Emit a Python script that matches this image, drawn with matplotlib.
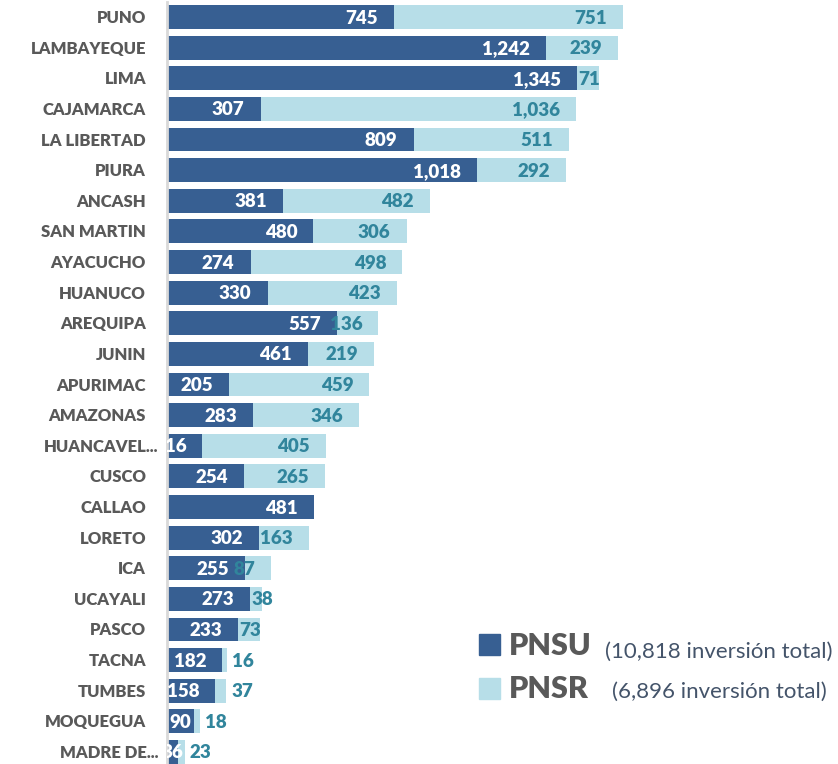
import matplotlib.pyplot as plt
from matplotlib.patches import Rectangle
import numpy as np

plt.rcParams['font.family'] = ['Lato', 'DejaVu Sans']

# data
regiones = ['PUNO', 'LAMBAYEQUE', 'LIMA', 'CAJAMARCA', 'LA LIBERTAD', 'PIURA',
            'ANCASH', 'SAN MARTIN', 'AYACUCHO', 'HUANUCO', 'AREQUIPA', 'JUNIN',
            'APURIMAC', 'AMAZONAS', 'HUANCAVEL...', 'CUSCO', 'CALLAO', 'LORETO',
            'ICA', 'UCAYALI', 'PASCO', 'TACNA', 'TUMBES', 'MOQUEGUA', 'MADRE DE...']
pnsu = [745, 1242, 1345, 307, 809, 1018, 381, 480, 274, 330, 557, 461,
        205, 283, 116, 254, 481, 302, 255, 273, 233, 182, 158, 90, 36]
pnsr = [751, 239, 71, 1036, 511, 292, 482, 306, 498, 423, 136, 219,
        459, 346, 405, 265, 0, 163, 87, 38, 73, 16, 37, 18, 23]
total_pnsu = '10,818'
total_pnsr = '6,896'

c_dark = '#375f92'
c_light = '#b7dee8'
c_gray = '#595959'
c_teal = '#31859c'
wt = 'heavy'
fs = 13.5
dy_cat = -6     # half cap height, pixels
dy_num = -6.5

fig = plt.figure(figsize=(8.38, 7.64), dpi=100)
ax = fig.add_axes([0.1993, -0.0043, 0.79, 1.002])

y = np.arange(len(regiones))
ax.barh(y, pnsu, height=0.78, color=c_dark)
ax.barh(y, pnsr, left=pnsu, height=0.78, color=c_light)

ax.set_ylim(len(regiones) - 0.5, -0.5)
ax.set_xlim(0, 2172)
ax.set_yticks([])
ax.set_xticks([])
for s in ['top', 'right', 'bottom']:
    ax.spines[s].set_visible(False)
ax.spines['left'].set_color('#d9d9d9')
ax.spines['left'].set_linewidth(2)

# category labels (truncated ones sit closer to the axis, like Excel)
for i, name in enumerate(regiones):
    off = -9 if name.endswith('...') else -21
    ax.annotate(name, (0, i), xytext=(off, dy_cat), textcoords='offset pixels',
                ha='right', va='baseline', color=c_gray, fontsize=12,
                fontweight=wt, annotation_clip=False)

fmt = lambda v: f'{v:,}'

# PNSU labels (inside end)
for i, v in enumerate(pnsu):
    if v < 100:
        ax.annotate(fmt(v), (v / 2, i), xytext=(0, dy_num), textcoords='offset pixels',
                    ha='center', va='baseline', color='white', fontsize=fs,
                    fontweight=wt, annotation_clip=False, clip_on=True)
    else:
        ax.annotate(fmt(v), (v, i), xytext=(-16, dy_num), textcoords='offset pixels',
                    ha='right', va='baseline', color='white', fontsize=fs,
                    fontweight=wt, annotation_clip=False, clip_on=True)

# PNSR labels
for i, (a, b) in enumerate(zip(pnsu, pnsr)):
    if b == 0:
        continue
    end = a + b
    if b >= 80:
        x, dx, ha = end, -16, 'right'
    elif b >= 38:
        x, dx, ha = a, 1, 'left'
    else:
        x, dx, ha = end, 5, 'left'
    ax.annotate(fmt(b), (x, i), xytext=(dx, dy_num), textcoords='offset pixels',
                ha=ha, va='baseline', color=c_teal, fontsize=fs, fontweight=wt)

# legend
W, H = 838, 764
fig.add_artist(Rectangle((479 / W, 1 - 655 / H), 21 / W, 21 / H,
                         transform=fig.transFigure, color=c_dark))
fig.add_artist(Rectangle((479 / W, 1 - 699 / H), 21 / W, 21 / H,
                         transform=fig.transFigure, color=c_light))
fig.text(509 / W, 1 - 655 / H, 'PNSU', fontsize=22, fontweight=wt, color=c_gray,
         va='baseline')
fig.text(509 / W, 1 - 698 / H, 'PNSR', fontsize=22, fontweight=wt, color=c_gray,
         va='baseline')
fig.text(605 / W, 1 - 658 / H, f'({total_pnsu} inversión total)', fontsize=16,
         color='#44546a', va='baseline')
fig.text(612 / W, 1 - 698 / H, f'({total_pnsr} inversión total)', fontsize=16,
         color='#44546a', va='baseline')

fig.savefig('out.png', dpi=100)
